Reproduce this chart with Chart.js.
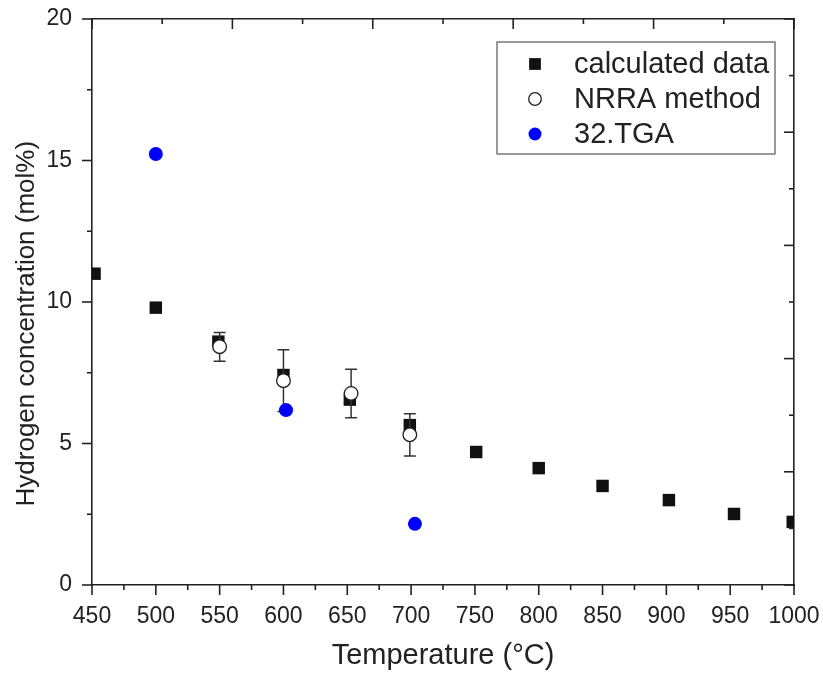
<!DOCTYPE html>
<html>
<head>
<meta charset="utf-8">
<script src="https://cdn.jsdelivr.net/npm/chart.js@4.4.0/dist/chart.umd.min.js"></script>
<style>
  body { margin: 0; background: #fff; }
  #wrap { width: 823px; height: 677px; }
</style>
</head>
<body>
<div id="wrap"><canvas id="h2chart" width="823" height="677"></canvas></div>
<script>
// values
var calcTemp = [452, 500, 549, 600, 652, 699, 751, 800, 850, 902, 953, 999]
var calcConc = [11.0, 9.8, 8.6, 7.42, 6.55, 5.65, 4.7, 4.13, 3.5, 3.0, 2.51, 2.23]

var nrraTemp = [550, 600, 653, 699]
var nrraConc = [8.42, 7.22, 6.77, 5.31]
var nrraHigh = [8.92, 8.31, 7.62, 6.05]
var nrraLow = [7.91, 6.13, 5.91, 4.56]

var tgaTemp = [500, 602, 703]
var tgaConc = [15.23, 6.18, 2.16]

var seriesNames = ['calculated data', 'NRRA method', '32.TGA']

const FONT = "'Liberation Sans', Arial, sans-serif"
const INK = '#222'

function pts(xs, ys){
  return xs.map((x, i) => ({x: x, y: ys[i]}))
}

// fixed axis boxes, no extra room for the end labels
function fixBox(w, h){
  return s => {
    if (w !== null) s.width = w
    if (h !== null) s.height = h
    s.paddingLeft = 0; s.paddingRight = 0
    s.paddingTop = 0; s.paddingBottom = 0
  }
}

// error bars for the NRRA points, drawn under the open circles
const errorBars = {
  id: 'errorBars',
  beforeDatasetDraw(chart, args){
    if (args.index !== 1) return
    const ctx = chart.ctx, xs = chart.scales.x, ys = chart.scales.y
    ctx.save()
    ctx.strokeStyle = '#333'
    ctx.lineWidth = 1.5
    nrraTemp.forEach((t, i) => {
      const px = xs.getPixelForValue(t)
      const top = ys.getPixelForValue(nrraHigh[i])
      const bot = ys.getPixelForValue(nrraLow[i])
      ctx.beginPath()
      ctx.moveTo(px, top); ctx.lineTo(px, bot)
      ctx.moveTo(px - 6, top); ctx.lineTo(px + 6, top)
      ctx.moveTo(px - 6, bot); ctx.lineTo(px + 6, bot)
      ctx.stroke()
    })
    ctx.restore()
  }
}

// major / minor tick marks, outward on bottom+left, inward on top+right
const tickMarks = {
  id: 'tickMarks',
  afterDraw(chart){
    const specs = {
      x: {major: 50},
      y: {major: 5},
      x2: {major: 2},
      y2: {major: 2}
    }
    const ctx = chart.ctx, area = chart.chartArea
    ctx.save()
    ctx.strokeStyle = INK
    ctx.lineWidth = 1.6
    Object.keys(specs).forEach(id => {
      const sc = chart.scales[id], sp = specs[id]
      sc.ticks.forEach(tk => {
        const q = tk.value / sp.major
        const len = Math.abs(q - Math.round(q)) < 1e-6 ? 10 : 5
        const p = sc.getPixelForValue(tk.value)
        ctx.beginPath()
        if (id === 'x'){ ctx.moveTo(p, area.bottom); ctx.lineTo(p, area.bottom + len) }
        if (id === 'x2'){ ctx.moveTo(p, area.top); ctx.lineTo(p, area.top + len) }
        if (id === 'y'){ ctx.moveTo(area.left, p); ctx.lineTo(area.left - len, p) }
        if (id === 'y2'){ ctx.moveTo(area.right, p); ctx.lineTo(area.right - len, p) }
        ctx.stroke()
      })
    })
    ctx.restore()
  }
}

// boxed legend in the upper right of the plot
const boxLegend = {
  id: 'boxLegend',
  afterDraw(chart){
    const ctx = chart.ctx
    const bx = 497, by = 42, bw = 278, bh = 112
    ctx.save()
    ctx.strokeStyle = '#555'
    ctx.lineWidth = 1.2
    ctx.strokeRect(bx, by, bw, bh)
    ctx.font = '29px ' + FONT
    ctx.textBaseline = 'middle'
    chart.data.datasets.forEach((ds, i) => {
      const cy = by + 22 + i * 35
      ctx.fillStyle = ds.backgroundColor
      ctx.strokeStyle = ds.borderColor
      ctx.lineWidth = ds.borderWidth
      Chart.helpers.drawPoint(ctx, {pointStyle: ds.pointStyle, radius: ds.pointRadius - 0.5, borderWidth: ds.borderWidth}, 535, cy)
      ctx.fillStyle = INK
      ctx.fillText(seriesNames[i], 574, cy + 1)
    })
    ctx.restore()
  }
}

const tickFont = {family: FONT, size: 23}

let h2 = document.getElementById('h2chart').getContext('2d')

let h2Chart = new Chart(h2, {
  type: 'scatter',
  data: {
    datasets: [{
      label: seriesNames[0],
      data: pts(calcTemp, calcConc),
      pointStyle: 'rect',
      pointRadius: 8.8,
      backgroundColor: '#111',
      borderColor: '#111',
      borderWidth: 0,
      order: 3
    }, {
      label: seriesNames[1],
      data: pts(nrraTemp, nrraConc),
      pointStyle: 'circle',
      pointRadius: 6.8,
      backgroundColor: '#fff',
      borderColor: '#222',
      borderWidth: 1.3,
      order: 2
    }, {
      label: seriesNames[2],
      data: pts(tgaTemp, tgaConc),
      pointStyle: 'circle',
      pointRadius: 7,
      backgroundColor: '#0000ff',
      borderColor: '#0000ff',
      borderWidth: 0,
      order: 1
    }]
  },
  options: {
    responsive: false,
    animation: false,
    layout: {padding: 0},
    plugins: {legend: {display: false}, tooltip: {enabled: false}},
    scales: {
      x: {
        type: 'linear', position: 'bottom', min: 450, max: 1000,
        grid: {display: false, drawTicks: false},
        border: {display: true, color: INK, width: 1.6},
        ticks: {stepSize: 25, autoSkip: false, maxRotation: 0, padding: 18, color: INK, font: tickFont,
          callback: v => v % 50 === 0 ? String(v) : ''},
        title: {display: true, text: 'Temperature (°C)', color: INK, font: {family: FONT, size: 29}, padding: {top: 0, bottom: 4}},
        afterFit: fixBox(null, 92)
      },
      x2: {
        type: 'linear', position: 'top', min: 0, max: 10,
        grid: {display: false, drawTicks: false},
        border: {display: true, color: INK, width: 1.6},
        ticks: {display: false, stepSize: 1},
        afterFit: fixBox(null, 19)
      },
      y: {
        type: 'linear', position: 'left', min: 0, max: 20,
        grid: {display: false, drawTicks: false},
        border: {display: true, color: INK, width: 1.6},
        ticks: {stepSize: 2.5, autoSkip: false, padding: 20, color: INK, font: tickFont,
          callback: v => v % 5 === 0 ? String(v) : ''},
        // trailing spaces nudge the centred title down, as in the original
        title: {display: true, text: 'Hydrogen concentration (mol%)\u00a0\u00a0\u00a0\u00a0\u00a0\u00a0', color: INK, font: {family: FONT, size: 26}, padding: {top: 11, bottom: 0}},
        afterFit: fixBox(92, null)
      },
      y2: {
        type: 'linear', position: 'right', min: 0, max: 10,
        grid: {display: false, drawTicks: false},
        border: {display: true, color: INK, width: 1.6},
        ticks: {display: false, stepSize: 1},
        afterFit: fixBox(29, null)
      }
    }
  },
  plugins: [errorBars, tickMarks, boxLegend]
})
</script>
</body>
</html>
